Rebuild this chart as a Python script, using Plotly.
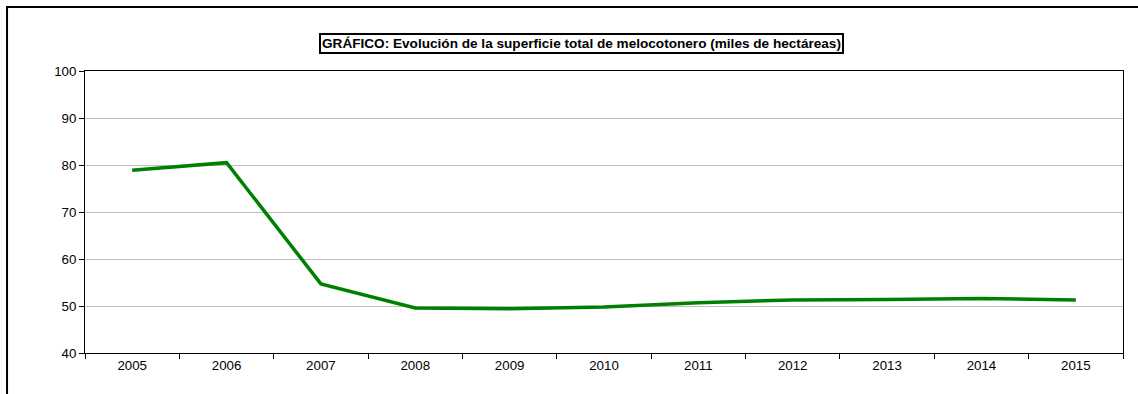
import plotly.graph_objects as go

# Superficie total de melocotonero (miles de hectáreas)
years = ["2005", "2006", "2007", "2008", "2009", "2010",
         "2011", "2012", "2013", "2014", "2015"]
superficie = [78.9, 80.5, 54.7, 49.6, 49.4, 49.8, 50.7, 51.3, 51.4, 51.6, 51.3]

title_text = "GRÁFICO: Evolución de la superficie total de melocotonero (miles de hectáreas)"

fig = go.Figure()

fig.add_trace(
    go.Scatter(
        x=years,
        y=superficie,
        mode="lines",
        line=dict(color="#008000", width=3.5),
        showlegend=False,
    )
)

font = dict(family="Liberation Sans, Arial, sans-serif", size=13.3, color="black")

fig.update_layout(
    width=1138,
    height=394,
    margin=dict(l=85, r=15, t=71, b=41),
    paper_bgcolor="white",
    plot_bgcolor="white",
    font=font,
    showlegend=False,
)

fig.update_xaxes(
    type="category",
    range=[-0.5, 10.5],
    showgrid=False,
    showline=True,
    linecolor="black",
    linewidth=1,
    mirror=True,
    ticks="outside",
    tickson="boundaries",
    ticklen=5,
    tickcolor="black",
    tickfont=font,
)
fig.update_yaxes(
    range=[40, 100],
    dtick=10,
    showgrid=True,
    gridcolor="#c0c0c0",
    gridwidth=1,
    zeroline=False,
    showline=True,
    linecolor="black",
    linewidth=1,
    mirror=True,
    ticks="outside",
    ticklen=5,
    tickcolor="black",
    tickfont=font,
)

# Title in a framed box
fig.add_annotation(
    x=0.4785,
    y=1.099,
    xref="paper",
    yref="paper",
    xanchor="center",
    yanchor="middle",
    text="<b>" + title_text + "</b>",
    showarrow=False,
    font=dict(family=font["family"], size=13.6, color="black"),
    bordercolor="black",
    borderwidth=2,
    borderpad=1,
    bgcolor="white",
)

# Outer chart border (runs past the bottom and right of the picture)
fig.add_shape(
    type="rect",
    xref="paper",
    yref="paper",
    x0=-0.0751,
    x1=1.02,
    y0=-0.17,
    y1=1.227,
    line=dict(color="black", width=2),
    layer="below",
)

fig.write_html(
    "out.html",
    config={"displayModeBar": False},
    post_script="document.body.style.margin='0';document.body.style.overflow='hidden';",
)
